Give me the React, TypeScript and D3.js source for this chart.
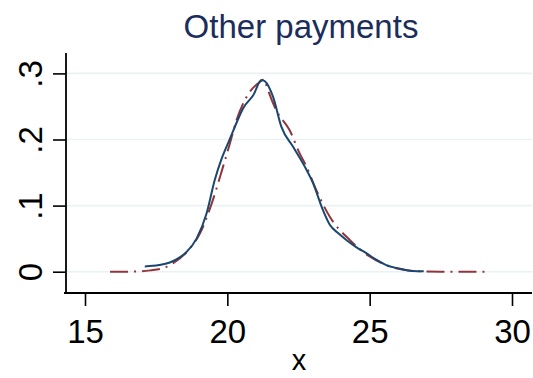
import React, { useEffect, useRef } from "react"
import * as d3 from "d3"

// solid line (kernel density)
const blueX = [17.1, 17.6, 17.98, 18.3, 18.57, 18.92, 19.27, 19.56, 19.8, 20.09, 20.35, 20.55, 20.91, 21.2, 21.32, 21.61, 21.9, 22.31, 22.72, 23.01, 23.36, 23.6, 23.9, 24.18, 24.5, 24.88, 25.2, 25.58, 26.0, 26.52, 26.9]
const blueY = [0.008, 0.01, 0.014, 0.021, 0.03, 0.05, 0.088, 0.139, 0.171, 0.201, 0.228, 0.247, 0.267, 0.29, 0.288, 0.264, 0.219, 0.189, 0.159, 0.134, 0.093, 0.071, 0.058, 0.048, 0.038, 0.028, 0.019, 0.01, 0.005, 0.001, 0.0005]

// dash-dot line
const redX = [15.88, 16.5, 16.93, 17.3, 17.63, 18.1, 18.68, 19.04, 19.45, 19.85, 20.09, 20.32, 20.67, 21.14, 21.3, 21.37, 21.72, 22.19, 22.54, 22.78, 23.13, 23.6, 24.3, 25.0, 25.7, 26.2, 26.75, 27.5, 28.3, 28.98, 29.07]
const redY = [0, 0, 0.0005, 0.002, 0.004, 0.013, 0.035, 0.058, 0.103, 0.159, 0.194, 0.229, 0.264, 0.287, 0.291, 0.282, 0.244, 0.214, 0.179, 0.159, 0.123, 0.083, 0.048, 0.023, 0.008, 0.003, 0.0005, 0, 0, 0, 0]

const xTicks = [15, 20, 25, 30]
const yTicks = [0, 0.1, 0.2, 0.3]
const yTickLabels = ["0", ".1", ".2", ".3"]

const title = "Other payments"
const xTitle = "x"

function App() {
    const ref = useRef<SVGSVGElement>(null)

    useEffect(() => {
        const width = 533
        const height = 378
        const svg = d3.select(ref.current)
        svg.selectAll("*").remove()

        const left = 66, right = 532, top = 53, bottom = 293
        const font = "Liberation Sans, Arial, Helvetica, sans-serif"

        const x = d3.scaleLinear().domain([15, 30]).range([85, 512])
        const y = d3.scaleLinear().domain([0, 0.3]).range([271.7, 73.4])

        svg.append("rect").attr("width", width).attr("height", height).attr("fill", "white")

        // grid
        svg.append("g")
            .selectAll("line")
            .data(yTicks)
            .enter()
            .append("line")
            .attr("x1", left)
            .attr("x2", right)
            .attr("y1", d => y(d))
            .attr("y2", d => y(d))
            .attr("stroke", "#eaf2f3")
            .attr("stroke-width", 1.6)

        const line = (xs: number[], ys: number[]) =>
            d3.line<number>()
                .x(d => x(xs[d]))
                .y(d => y(ys[d]))
                .curve(d3.curveMonotoneX)(d3.range(xs.length))

        svg.append("path")
            .attr("d", line(redX, redY))
            .attr("fill", "none")
            .attr("stroke", "#90353b")
            .attr("stroke-width", 2)
            .attr("stroke-dasharray", "18,6,2,6")

        svg.append("path")
            .attr("d", line(blueX, blueY))
            .attr("fill", "none")
            .attr("stroke", "#1a476f")
            .attr("stroke-width", 2)

        // y axis
        const yAxis = d3.axisLeft(y)
            .tickValues(yTicks)
            .tickSize(13)
            .tickFormat((d, i) => yTickLabels[i])
        const gy = svg.append("g")
            .attr("transform", "translate(" + left + ",0)")
            .call(yAxis)
        gy.select(".domain").remove()
        gy.selectAll(".tick line").attr("stroke", "black").attr("stroke-width", 1.6)
        gy.selectAll(".tick text")
            .attr("transform", "rotate(-90)")
            .attr("x", 0)
            .attr("y", -24)
            .attr("dy", 0)
            .attr("text-anchor", "middle")
            .style("font-family", font)
            .style("font-size", "33px")
            .attr("fill", "black")
        svg.append("line")
            .attr("x1", left).attr("x2", left)
            .attr("y1", top).attr("y2", bottom)
            .attr("stroke", "black").attr("stroke-width", 1.8)

        // x axis
        const xAxis = d3.axisBottom(x)
            .tickValues(xTicks)
            .tickSize(13)
            .tickFormat(d3.format("d"))
        const gx = svg.append("g")
            .attr("transform", "translate(0," + bottom + ")")
            .call(xAxis)
        gx.select(".domain").remove()
        gx.selectAll(".tick line").attr("stroke", "black").attr("stroke-width", 1.6)
        gx.selectAll(".tick text")
            .attr("y", 50)
            .attr("dy", 0)
            .style("font-family", font)
            .style("font-size", "33px")
            .attr("fill", "black")
        svg.append("line")
            .attr("x1", 64).attr("x2", right)
            .attr("y1", bottom).attr("y2", bottom)
            .attr("stroke", "black").attr("stroke-width", 1.8)

        svg.append("text")
            .attr("x", 299)
            .attr("y", 370)
            .attr("text-anchor", "middle")
            .style("font-family", font)
            .style("font-size", "29px")
            .attr("fill", "black")
            .text(xTitle)

        svg.append("text")
            .attr("x", 301)
            .attr("y", 37.5)
            .attr("text-anchor", "middle")
            .style("font-family", font)
            .style("font-size", "33px")
            .attr("fill", "#1c2d5b")
            .text(title)
    }, [])

    return (
        <svg ref={ref} width={533} height={378} style={{ position: "absolute", left: 0, top: 0 }} />
    )
}

export default App
